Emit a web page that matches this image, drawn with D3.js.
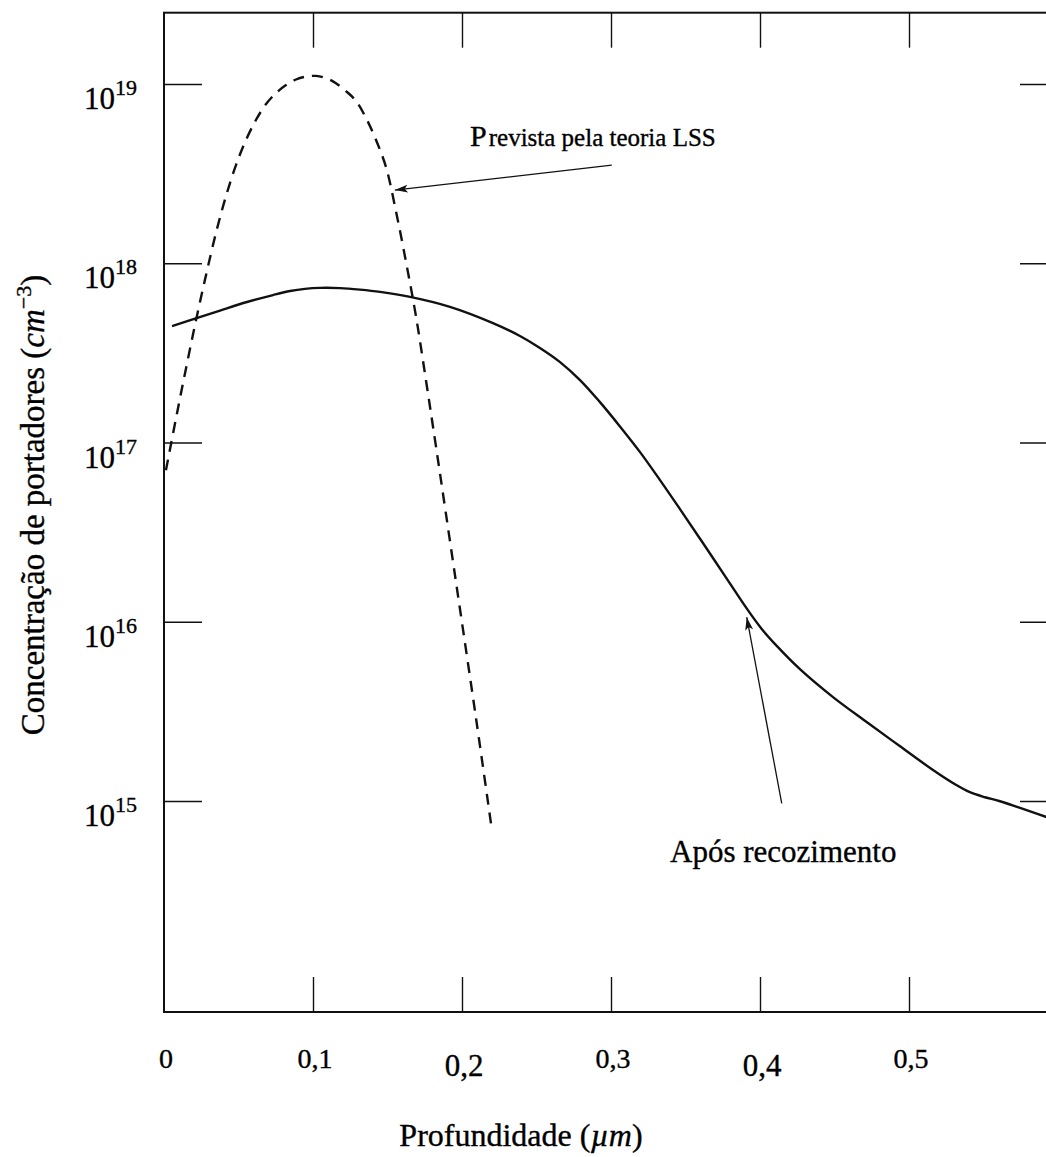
<!DOCTYPE html>
<html>
<head>
<meta charset="utf-8">
<script src="https://cdn.jsdelivr.net/npm/d3@7"></script>
<style>
  html, body { margin: 0; padding: 0; background: #fff; }
  svg { display: block; }
  text { font-family: "Liberation Serif", "DejaVu Serif", serif; fill: #000; stroke: #000; stroke-width: 0.35; }
</style>
</head>
<body>
<svg id="chart" width="1046" height="1157"></svg>
<script>
// Depth axis (µm) and its labels
const depthTicks = [0, 0.1, 0.2, 0.3, 0.4, 0.5];
const depthTickLabels = ["0", "0,1", "0,2", "0,3", "0,4", "0,5"];
const frameDepthTicks = [0.1, 0.2, 0.3, 0.4, 0.5];

// Concentration decades (exponents of 10)
const decadeExponents = [15, 16, 17, 18, 19];

// Profile predicted by LSS theory (dashed)
const lssDepth = [0.0013, 0.0081, 0.0148, 0.0215, 0.0282, 0.0349, 0.0416, 0.0483, 0.0550, 0.0617,
  0.0685, 0.0752, 0.0819, 0.0886, 0.0953, 0.1020, 0.1087, 0.1154, 0.1221, 0.1289,
  0.1356, 0.1423, 0.1490, 0.1557, 0.1624, 0.1691, 0.1758, 0.1826, 0.1960, 0.2094, 0.2201];
const lssConc = [7.0e16, 1.37e17, 2.60e17, 4.82e17, 8.59e17, 1.48e18, 2.37e18, 3.53e18, 4.87e18, 6.30e18,
  7.73e18, 8.91e18, 9.87e18, 1.06e19, 1.10e19, 1.11e19, 1.08e19, 1.01e19, 9.14e18, 8.04e18,
  6.46e18, 4.87e18, 3.44e18, 1.95e18, 1.02e18, 5.07e17, 2.23e17, 9.42e16, 1.66e16, 2.90e15, 6.87e14];

// Measured profile after annealing (solid)
const annealDepth = [0.0054, 0.0208, 0.0376, 0.0557, 0.0732, 0.0846, 0.0946, 0.1047, 0.1181, 0.1315,
  0.1450, 0.1651, 0.1919, 0.2208, 0.2389, 0.2523, 0.2658, 0.2792, 0.2926, 0.3060,
  0.3195, 0.3329, 0.3463, 0.3617, 0.3779, 0.3913, 0.4013, 0.4114, 0.4268, 0.4490,
  0.4718, 0.4940, 0.5161, 0.5309, 0.5409, 0.5510, 0.5611, 0.5926];
const annealConc = [4.46e17, 4.91e17, 5.45e17, 6.08e17, 6.65e17, 7.00e17, 7.20e17, 7.29e17, 7.27e17, 7.13e17,
  6.93e17, 6.50e17, 5.72e17, 4.64e17, 3.93e17, 3.37e17, 2.81e17, 2.23e17, 1.68e17, 1.23e17,
  8.84e16, 6.17e16, 4.25e16, 2.75e16, 1.73e16, 1.18e16, 9.09e15, 7.31e15, 5.44e15, 3.80e15,
  2.75e15, 2.02e15, 1.49e15, 1.24e15, 1.12e15, 1.05e15, 9.97e14, 8.12e14];

// Annotations: label, label anchor (depth, conc), arrow tail and tip (depth, conc)
const lssNote = { text: "revista pela teoria LSS", first: "P", at: [0.2054, 4.5e18], tail: [0.3005, 3.53e18], tip: [0.1549, 2.56e18] };
const annealNote = { text: "Após recozimento", at: [0.3396, 4.55e14], tail: [0.4146, 9.7e14], tip: [0.3911, 1.06e16] };

const svg = d3.select("#chart");

const x = d3.scaleLinear().domain([0, 0.6]).range([164, 1058]);
const y = d3.scaleLog().domain([Math.pow(10, 13.823), Math.pow(10, 19.398)]).range([1012, 12.7]);

const plotTop = y.range()[1], plotBottom = y.range()[0];
const plotLeft = x.range()[0], plotRight = x.range()[1];

// Inward ticks on all four sides
const decades = decadeExponents.map(e => Math.pow(10, e));
function styleAxis(g) {
  g.select(".domain").remove();
  g.selectAll(".tick line").attr("stroke", "#111").attr("stroke-width", 1.4);
  g.selectAll(".tick text").remove();
}
svg.append("g").attr("transform", `translate(${plotLeft},0)`)
  .call(d3.axisLeft(y).tickValues(decades).tickSizeInner(-38).tickSizeOuter(0).tickFormat(""))
  .call(styleAxis);
svg.append("g").attr("transform", `translate(${plotRight},0)`)
  .call(d3.axisRight(y).tickValues(decades).tickSizeInner(-38).tickSizeOuter(0).tickFormat(""))
  .call(styleAxis);
svg.append("g").attr("transform", `translate(0,${plotTop})`)
  .call(d3.axisTop(x).tickValues(frameDepthTicks).tickSizeInner(-35).tickSizeOuter(0).tickFormat(""))
  .call(styleAxis);
svg.append("g").attr("transform", `translate(0,${plotBottom})`)
  .call(d3.axisBottom(x).tickValues(frameDepthTicks).tickSizeInner(-35).tickSizeOuter(0).tickFormat(""))
  .call(styleAxis);

// Frame
svg.append("rect")
  .attr("x", plotLeft).attr("y", plotTop)
  .attr("width", plotRight - plotLeft).attr("height", plotBottom - plotTop)
  .attr("fill", "none").attr("stroke", "#111").attr("stroke-width", 2);

// Decade labels 10^n
const yLabels = svg.append("g");
decadeExponents.forEach(e => {
  const t = yLabels.append("text")
    .attr("x", 137).attr("y", y(Math.pow(10, e)) + 25)
    .attr("text-anchor", "end");
  t.append("tspan").attr("font-size", 31).text("10");
  t.append("tspan").attr("font-size", 22).attr("dy", -14).text(String(e));
});

// Depth labels
const lowered = new Set(["0,2", "0,4"]);
svg.append("g").selectAll("text")
  .data(depthTicks)
  .join("text")
  .attr("x", d => x(d) + 2)
  .attr("y", (d, i) => plotBottom + (lowered.has(depthTickLabels[i]) ? 64 : 56))
  .attr("text-anchor", "middle")
  .attr("font-size", (d, i) => lowered.has(depthTickLabels[i]) ? 31 : 28)
  .text((d, i) => depthTickLabels[i]);

// Axis titles
const xt = svg.append("text").attr("x", 521).attr("y", 1146).attr("text-anchor", "middle").attr("font-size", 32);
xt.append("tspan").text("Profundidade (");
xt.append("tspan").attr("font-style", "italic").text("µm");
xt.append("tspan").text(")");

const yt = svg.append("text")
  .attr("transform", "translate(44,505) rotate(-90)")
  .attr("text-anchor", "middle").attr("font-size", 33);
yt.append("tspan").text("Concentração de portadores (");
yt.append("tspan").attr("font-style", "italic").text("cm");
yt.append("tspan").attr("font-size", 22).attr("dy", -13).text("−3");
yt.append("tspan").attr("dy", 13).text(")");

// Curves
const clipId = "plot-clip";
svg.append("clipPath").attr("id", clipId)
  .append("rect").attr("x", plotLeft).attr("y", plotTop).attr("width", plotRight - plotLeft).attr("height", plotBottom - plotTop);

const line = d3.line().x(d => x(d[0])).y(d => y(d[1])).curve(d3.curveCatmullRom.alpha(0.5));

svg.append("path")
  .datum(lssDepth.map((d, i) => [d, lssConc[i]]))
  .attr("d", line)
  .attr("fill", "none").attr("stroke", "#111").attr("stroke-width", 2.4)
  .attr("stroke-dasharray", "11 8")
  .attr("clip-path", `url(#${clipId})`);

svg.append("path")
  .datum(annealDepth.map((d, i) => [d, annealConc[i]]))
  .attr("d", line)
  .attr("fill", "none").attr("stroke", "#111").attr("stroke-width", 2.4);

// Arrowhead
svg.append("defs").append("marker")
  .attr("id", "head").attr("viewBox", "-14 -6 16 12")
  .attr("refX", 0).attr("refY", 0)
  .attr("markerWidth", 16).attr("markerHeight", 12)
  .attr("markerUnits", "userSpaceOnUse")
  .attr("orient", "auto")
  .append("path").attr("d", "M0,0 L-13,-4 L-10,0 L-13,4 Z").attr("fill", "#111");

function arrow(note) {
  svg.append("line")
    .attr("x1", x(note.tail[0])).attr("y1", y(note.tail[1]))
    .attr("x2", x(note.tip[0])).attr("y2", y(note.tip[1]))
    .attr("stroke", "#111").attr("stroke-width", 1.3)
    .attr("marker-end", "url(#head)");
}
arrow(lssNote);
arrow(annealNote);

const lt = svg.append("text").attr("x", x(lssNote.at[0])).attr("y", y(lssNote.at[1])).attr("font-size", 25);
lt.append("tspan").attr("font-size", 30).text(lssNote.first);
lt.append("tspan").attr("dx", 2).text(lssNote.text);

svg.append("text").attr("x", x(annealNote.at[0])).attr("y", y(annealNote.at[1]))
  .attr("font-size", 31).text(annealNote.text);
</script>
</body>
</html>
